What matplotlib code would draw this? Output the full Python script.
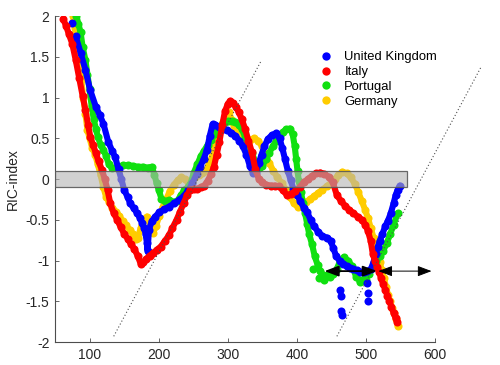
import matplotlib
matplotlib.use("Agg")
import matplotlib.pyplot as plt
from matplotlib.patches import Rectangle
from matplotlib.lines import Line2D

plt.rcParams['font.family'] = ['Liberation Sans', 'DejaVu Sans']
plt.rcParams['axes.unicode_minus'] = False

# ---------------- data ----------------
names = ["United Kingdom", "Italy", "Portugal", "Germany"]
colors = ["#0000FF", "#FF0000", "#10E010", "#FFCC00"]

uk_x = [80, 87, 94, 101, 109, 115, 120, 127, 133, 137,
        142, 146, 150, 155, 159, 164, 169, 173, 176, 179,
        181, 183, 184, 186, 190, 195, 201, 208, 215, 222,
        229, 236, 243, 249, 255, 260, 265, 270, 274, 278,
        282, 287, 293, 299, 305, 311, 317, 322, 327, 332,
        337, 341, 345, 349, 353, 358, 364, 370, 375, 379,
        383, 387, 391, 395, 400, 405, 410, 415, 420, 425,
        431, 437, 444, 449, 453, 457, 462, 467, 472, 477,
        482, 487, 492, 497, 502, 507, 511, 514, 517, 520,
        524, 528, 532, 536, 540, 543, 546, 549]
uk_y = [1.75, 1.55, 1.34, 1.09, 0.89, 0.78, 0.68, 0.46, 0.34, 0.27,
        0.12, 0.00, -0.13, -0.22, -0.30, -0.36, -0.42, -0.48, -0.54, -0.60,
        -0.67, -0.78, -0.88, -0.62, -0.52, -0.46, -0.41, -0.37, -0.34, -0.30,
        -0.26, -0.21, -0.14, -0.05, 0.06, 0.15, 0.24, 0.36, 0.53, 0.67,
        0.66, 0.64, 0.62, 0.60, 0.57, 0.53, 0.47, 0.40, 0.30, 0.16,
        0.07, 0.08, 0.20, 0.30, 0.40, 0.49, 0.54, 0.56, 0.50, 0.38,
        0.24, 0.10, -0.01, -0.12, -0.19, -0.27, -0.35, -0.41, -0.50, -0.58,
        -0.65, -0.70, -0.72, -0.76, -0.85, -0.95, -1.00, -1.04, -1.07, -1.09,
        -1.11, -1.12, -1.14, -1.14, -1.13, -1.11, -1.02, -0.92, -0.84, -0.76,
        -0.67, -0.58, -0.51, -0.42, -0.30, -0.20, -0.13, -0.08]
uk_extra_x = [74, 462, 464, 464, 466, 501, 503, 503]
uk_extra_y = [1.91, -1.36, -1.44, -1.62, -1.67, -1.28, -1.40, -1.50]

it_x = [62, 66, 70, 75, 80, 85, 90, 94, 98, 101,
        105, 109, 113, 118, 122, 126, 130, 135, 140, 145,
        150, 155, 160, 165, 170, 174, 178, 182, 187, 192,
        197, 203, 209, 215, 220, 226, 231, 236, 241, 246,
        251, 256, 261, 266, 271, 276, 280, 284, 288, 292,
        296, 300, 304, 308, 312, 316, 320, 325, 330, 335,
        340, 345, 350, 356, 362, 368, 374, 380, 386, 392,
        398, 404, 410, 416, 422, 428, 434, 440, 446, 452,
        458, 464, 470, 476, 482, 488, 494, 499, 503, 507,
        510, 513, 516, 519, 522, 525, 528, 531, 534, 537,
        540, 543, 545]
it_y = [1.96, 1.88, 1.78, 1.66, 1.46, 1.24, 1.02, 0.85, 0.66, 0.52,
        0.42, 0.32, 0.22, 0.11, 0.00, -0.13, -0.30, -0.42, -0.50, -0.59,
        -0.67, -0.73, -0.80, -0.86, -0.95, -1.04, -1.02, -0.98, -0.94, -0.91,
        -0.87, -0.83, -0.76, -0.69, -0.60, -0.50, -0.40, -0.30, -0.20, -0.13,
        -0.12, -0.12, -0.10, -0.08, -0.02, 0.06, 0.15, 0.30, 0.46, 0.66,
        0.83, 0.92, 0.96, 0.93, 0.88, 0.82, 0.74, 0.62, 0.47, 0.33,
        0.12, 0.00, -0.04, -0.07, -0.08, -0.08, -0.09, -0.14, -0.20, -0.18,
        -0.15, -0.10, -0.04, 0.00, 0.04, 0.07, 0.08, 0.06, 0.03, -0.04,
        -0.20, -0.27, -0.33, -0.38, -0.42, -0.46, -0.50, -0.56, -0.64, -0.76,
        -0.92, -1.00, -1.08, -1.14, -1.22, -1.29, -1.36, -1.43, -1.50, -1.57,
        -1.64, -1.71, -1.75]

pt_x = [81, 84, 87, 90, 94, 97, 100, 103, 106, 109,
        112, 116, 120, 124, 128, 133, 140, 148, 156, 163,
        170, 177, 184, 190, 194, 197, 200, 204, 209, 215,
        221, 227, 232, 237, 242, 246, 251, 256, 261, 266,
        271, 276, 281, 286, 291, 296, 301, 306, 311, 316,
        320, 325, 330, 335, 340, 345, 350, 355, 360, 365,
        370, 375, 380, 385, 390, 394, 397, 399, 401, 403,
        406, 409, 412, 415, 418, 422, 426, 430, 434, 438,
        443, 448, 453, 458, 463, 468, 474, 480, 486, 492,
        498, 504, 510, 515, 520, 525, 530, 535, 540, 546]
pt_y = [2.00, 1.90, 1.80, 1.62, 1.46, 1.28, 1.10, 0.90, 0.74, 0.62,
        0.52, 0.42, 0.36, 0.28, 0.18, 0.13, 0.14, 0.17, 0.17, 0.16,
        0.15, 0.15, 0.14, 0.15, 0.05, -0.05, -0.13, -0.24, -0.27, -0.26,
        -0.28, -0.27, -0.20, -0.14, -0.10, -0.06, 0.08, 0.18, 0.28, 0.35,
        0.42, 0.48, 0.55, 0.62, 0.66, 0.70, 0.71, 0.71, 0.70, 0.66,
        0.62, 0.52, 0.42, 0.32, 0.21, 0.14, 0.16, 0.24, 0.32, 0.40,
        0.47, 0.54, 0.58, 0.61, 0.62, 0.55, 0.40, 0.25, 0.10, -0.03,
        -0.16, -0.30, -0.42, -0.55, -0.68, -0.80, -0.95, -1.05, -1.13, -1.18,
        -1.18, -1.20, -1.16, -1.10, -1.00, -0.96, -1.00, -1.07, -1.20, -1.25,
        -1.22, -1.16, -1.08, -1.00, -0.95, -0.88, -0.79, -0.68, -0.56, -0.42]
pt_extra_x = [424, 432, 440, 491, 500]
pt_extra_y = [-1.10, -1.22, -1.24, -1.26, -1.24]

de_x = [76, 79, 82, 85, 88, 91, 94, 97, 100, 104,
        108, 112, 116, 120, 124, 128, 133, 138, 143, 148,
        153, 158, 163, 167, 170, 174, 178, 183, 188, 192,
        196, 201, 206, 211, 216, 222, 228, 233, 238, 243,
        248, 253, 258, 263, 268, 273, 278, 283, 288, 293,
        298, 302, 306, 310, 315, 320, 326, 332, 338, 344,
        350, 355, 360, 366, 372, 378, 384, 390, 396, 401,
        407, 413, 419, 425, 431, 437, 443, 449, 455, 460,
        466, 472, 478, 484, 489, 494, 499, 503, 507, 511,
        514, 517, 520, 523, 526, 529, 532, 535, 538, 541,
        544, 546]
de_y = [2.00, 1.85, 1.66, 1.45, 1.22, 1.00, 0.80, 0.60, 0.50, 0.38,
        0.30, 0.18, 0.05, -0.10, -0.22, -0.28, -0.35, -0.40, -0.45, -0.52,
        -0.57, -0.62, -0.68, -0.74, -0.72, -0.60, -0.50, -0.46, -0.56, -0.66,
        -0.58, -0.45, -0.34, -0.25, -0.15, -0.07, -0.01, 0.02, 0.00, -0.04,
        -0.02, 0.02, 0.05, 0.07, 0.10, 0.18, 0.30, 0.45, 0.58, 0.70,
        0.79, 0.82, 0.72, 0.60, 0.54, 0.50, 0.47, 0.48, 0.50, 0.47,
        0.40, 0.30, 0.20, 0.10, 0.02, -0.05, -0.13, -0.22, -0.30, -0.34,
        -0.32, -0.28, -0.25, -0.21, -0.17, -0.13, -0.09, -0.05, 0.00, 0.05,
        0.09, 0.07, 0.02, -0.06, -0.16, -0.27, -0.38, -0.48, -0.60, -0.72,
        -0.82, -0.92, -1.02, -1.12, -1.22, -1.32, -1.42, -1.50, -1.58, -1.65,
        -1.72, -1.80]

# neutral band, guide lines and arrows
band_x = [50, 560]
band_y = [-0.1, 0.1]
guide1_x = [135, 349]
guide1_y = [-1.93, 1.46]
guide2_x = [458, 667]
guide2_y = [-1.93, 1.38]
arrow_y = -1.13
arrow1_x = [440, 516]
arrow2_x = [518, 595]

xticks = [100, 200, 300, 400, 500, 600]
yticks = [-2, -1.5, -1, -0.5, 0, 0.5, 1, 1.5, 2]
ytick_labels = ["-2", "-1.5", "-1", "-0.5", "0", "0.5", "1", "1.5", "2"]

# ---------------- figure ----------------
fig = plt.figure(figsize=(5.0, 3.65), dpi=100)
ax = fig.add_axes([0.11, 0.063, 0.76, 0.893])

series = {
    "Germany": (de_x, de_y, [], [], colors[3], 2),
    "Portugal": (pt_x, pt_y, pt_extra_x, pt_extra_y, colors[2], 3),
    "United Kingdom": (uk_x, uk_y, uk_extra_x, uk_extra_y, colors[0], 4),
    "Italy": (it_x, it_y, [], [], colors[1], 5),
}
for name, (sx, sy, ex, ey, c, z) in series.items():
    ax.plot(sx, sy, '-', color=c, lw=4.4, solid_capstyle='round',
            solid_joinstyle='round', zorder=z)
    ax.plot(sx, sy, 'o', color=c, ms=5.8, mew=0, zorder=z)
    if ex:
        ax.plot(ex, ey, 'o', color=c, ms=5.8, mew=0, zorder=z)

ax.add_patch(Rectangle((band_x[0], band_y[0]), band_x[1] - band_x[0],
                       band_y[1] - band_y[0], facecolor=(0.7, 0.7, 0.7, 0.6),
                       edgecolor=(0.35, 0.35, 0.35, 0.9), lw=0.9, zorder=8))

for gx, gy in ((guide1_x, guide1_y), (guide2_x, guide2_y)):
    ax.plot(gx, gy, color='0.3', lw=0.8, ls=(0, (1, 2)), clip_on=False, zorder=9)

ax.annotate('', xy=(arrow1_x[1], arrow_y), xytext=(arrow1_x[0], arrow_y),
            arrowprops=dict(arrowstyle='<|-|>,head_length=0.85,head_width=0.32',
                            color='k', lw=1.3, shrinkA=0, shrinkB=0), zorder=10)
ax.annotate('', xy=(arrow2_x[1], arrow_y), xytext=(arrow2_x[0], arrow_y),
            arrowprops=dict(arrowstyle='<|-|>,head_length=0.85,head_width=0.32',
                            color='k', lw=0.7, shrinkA=0, shrinkB=0), zorder=10)

ax.set_xlim(50, 600)
ax.set_ylim(-2, 2)
ax.set_xticks(xticks)
ax.set_yticks(yticks)
ax.set_yticklabels(ytick_labels)
for s in ('top', 'right'):
    ax.spines[s].set_visible(False)
for s in ('left', 'bottom'):
    ax.spines[s].set_color('0.3')
    ax.spines[s].set_linewidth(0.8)
ax.tick_params(direction='in', length=3, width=0.6, color='0.3',
               labelsize=10, labelcolor='0.15', pad=4)
ax.set_ylabel("RIC-index", fontsize=10, color='0.15')

handles = [Line2D([], [], ls='none', marker='o', ms=6, mew=0, color=colors[i])
           for i in range(4)]
ax.legend(handles, names, loc='upper left', bbox_to_anchor=(0.665, 0.928),
          frameon=False, fontsize=9.4, handlelength=1.0, handletextpad=0.9,
          labelspacing=0.2, borderpad=0.4)

fig.savefig("out.png", dpi=100)
